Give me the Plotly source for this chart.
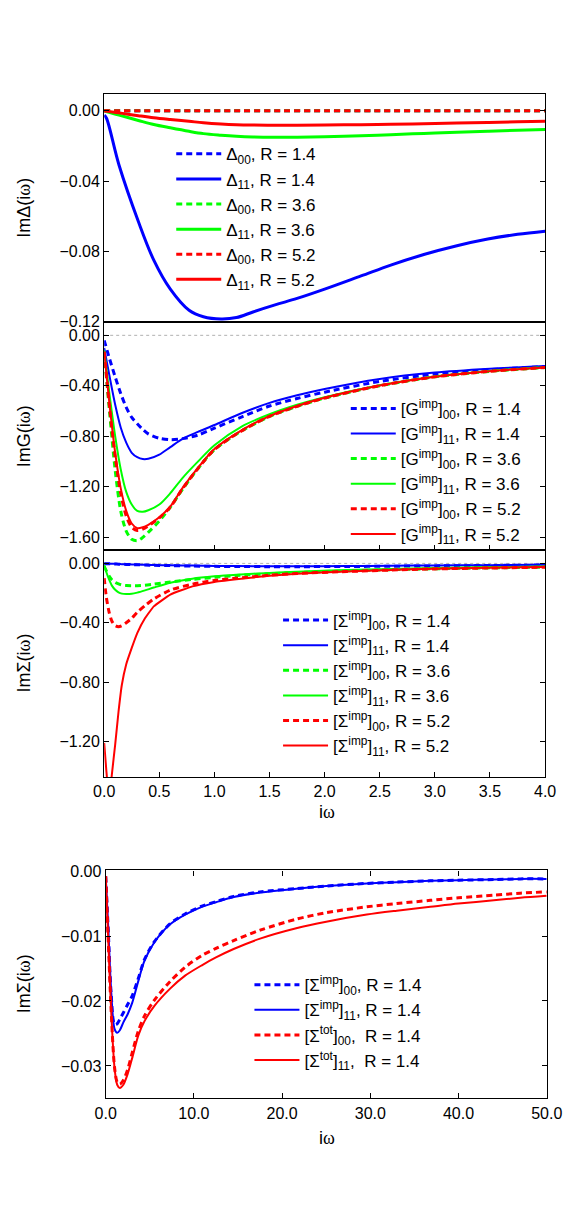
import plotly.graph_objects as go

FONT = "Liberation Sans, Arial, Helvetica, sans-serif"
BLUE, GREEN, RED = "#0000ff", "#00ff00", "#ff0000"
W, H = 584, 1211

# ---------------- Panel 1: Im Delta(i omega) ----------------
x_delta = [0, 0.02, 0.135, 0.31, 0.45, 0.6, 0.77, 0.9, 1.06, 1.2, 1.35, 1.55, 1.75,
           2.0, 2.33, 2.6, 2.9, 3.2, 3.48, 3.75, 4.0]
delta00_R14 = [0, 0, 0, 0, 0, 0, 0, 0, 0, 0, 0, 0, 0, 0, 0, 0, 0, 0, 0, 0, 0]
delta11_R14 = [-0.0025, -0.0041, -0.031, -0.063, -0.085, -0.1015, -0.1135, -0.1172, -0.1185,
               -0.1177, -0.1145, -0.1105, -0.1068, -0.1015, -0.094, -0.0878, -0.0818,
               -0.0768, -0.073, -0.0703, -0.0685]
delta00_R36 = [0, 0, 0, 0, 0, 0, 0, 0, 0, 0, 0, 0, 0, 0, 0, 0, 0, 0, 0, 0, 0]
delta11_R36 = [0, -0.0004, -0.0025, -0.0055, -0.0078, -0.0097, -0.0117, -0.013, -0.0139,
               -0.0145, -0.0149, -0.0151, -0.0151, -0.0148, -0.0142, -0.0136, -0.0129,
               -0.0122, -0.0116, -0.0111, -0.0106]
delta00_R52 = [0, 0, 0, 0, 0, 0, 0, 0, 0, 0, 0, 0, 0, 0, 0, 0, 0, 0, 0, 0, 0]
delta11_R52 = [0, -0.0002, -0.0012, -0.0028, -0.004, -0.005, -0.006, -0.0068, -0.0075,
               -0.0079, -0.0081, -0.0082, -0.0082, -0.0081, -0.0079, -0.0077, -0.0074,
               -0.007, -0.0067, -0.0063, -0.006]

# ---------------- Panel 2: Im G(i omega) ----------------
x_g = [0, 0.05, 0.1, 0.15, 0.2, 0.25, 0.3, 0.35, 0.4, 0.5, 0.6, 0.71, 0.85, 1.0, 1.25,
       1.5, 1.75, 2.0, 2.5, 3.0, 3.5, 4.0]
g00_R14 = [-0.04, -0.19, -0.33, -0.46, -0.57, -0.65, -0.70, -0.745, -0.78, -0.815, -0.826,
           -0.818, -0.79, -0.735, -0.645, -0.56, -0.50, -0.45, -0.365, -0.307, -0.272, -0.247]
g11_R14 = [-0.10, -0.33, -0.55, -0.73, -0.85, -0.93, -0.965, -0.98, -0.978, -0.945, -0.885,
           -0.82, -0.765, -0.71, -0.615, -0.535, -0.475, -0.425, -0.345, -0.295, -0.265, -0.243]
g00_R36 = [-0.13, -0.62, -1.07, -1.39, -1.55, -1.615, -1.626, -1.60, -1.56, -1.47, -1.36,
           -1.22, -1.055, -0.905, -0.755, -0.642, -0.562, -0.497, -0.399, -0.329, -0.285, -0.255]
g11_R36 = [-0.12, -0.48, -0.80, -1.06, -1.24, -1.34, -1.39, -1.397, -1.385, -1.34, -1.25,
           -1.13, -1.0, -0.87, -0.72, -0.625, -0.55, -0.49, -0.395, -0.325, -0.282, -0.252]
g00_R52 = [-0.13, -0.58, -0.96, -1.25, -1.43, -1.52, -1.545, -1.535, -1.51, -1.445, -1.36,
           -1.215, -1.055, -0.905, -0.755, -0.642, -0.562, -0.497, -0.399, -0.329, -0.285, -0.255]
g11_R52 = [-0.13, -0.56, -0.93, -1.21, -1.39, -1.49, -1.527, -1.52, -1.50, -1.44, -1.355,
           -1.21, -1.05, -0.90, -0.75, -0.64, -0.56, -0.495, -0.398, -0.328, -0.284, -0.254]

# ---------------- Panel 3: Im Sigma(i omega) ----------------
x_s = [0, 0.02, 0.045, 0.07, 0.1, 0.13, 0.16, 0.2, 0.25, 0.3, 0.37, 0.45, 0.6, 0.8, 1.0,
       1.2, 1.5, 1.75, 2.2, 2.6, 3.0, 3.5, 4.0]
s00_R14 = [-0.002, -0.002, -0.003, -0.003, -0.004, -0.005, -0.006, -0.007, -0.008, -0.009,
           -0.011, -0.013, -0.015, -0.018, -0.02, -0.021, -0.022, -0.022, -0.021, -0.019,
           -0.017, -0.014, -0.011]
s11_R14 = [-0.001, -0.002, -0.002, -0.003, -0.003, -0.004, -0.005, -0.006, -0.007, -0.008,
           -0.009, -0.011, -0.013, -0.015, -0.017, -0.018, -0.019, -0.019, -0.018, -0.016,
           -0.014, -0.012, -0.010]
s00_R36 = [-0.02, -0.05, -0.085, -0.11, -0.128, -0.138, -0.145, -0.149, -0.15, -0.15, -0.147,
           -0.14, -0.125, -0.108, -0.094, -0.082, -0.07, -0.062, -0.05, -0.042, -0.036,
           -0.03, -0.025]
s11_R36 = [-0.01, -0.06, -0.11, -0.15, -0.178, -0.195, -0.204, -0.207, -0.205, -0.197,
           -0.182, -0.163, -0.13, -0.103, -0.087, -0.076, -0.064, -0.056, -0.045, -0.037,
           -0.031, -0.025, -0.021]
s00_R52 = [-0.10, -0.23, -0.33, -0.39, -0.42, -0.427, -0.42, -0.40, -0.37, -0.33, -0.285,
           -0.24, -0.18, -0.14, -0.115, -0.1, -0.08, -0.068, -0.055, -0.045, -0.037, -0.031,
           -0.026]
s11_R52 = [-1.21, -1.40, -1.60, -1.42, -1.22, -1.0, -0.82, -0.68, -0.57, -0.47, -0.37,
           -0.29, -0.21, -0.155, -0.125, -0.107, -0.083, -0.07, -0.054, -0.044, -0.036,
           -0.03, -0.025]

# ---------------- Figure 2: Im Sigma (imp vs tot), wide range ----------------
x_t = [0, 0.3, 0.6, 1.0, 1.3, 1.6, 2.0, 2.5, 3.0, 3.7, 4.4, 5.5, 7.3, 9.0, 10.9, 12.5,
       14.5, 17.5, 21.6, 25.0, 29.6, 33.0, 36.8, 40.0, 44.0, 47.0, 50.0]
simp00 = [-0.0008, -0.0095, -0.0185, -0.0236, -0.0235, -0.0228, -0.0218, -0.0205, -0.0192,
          -0.0165, -0.0136, -0.0109, -0.0081, -0.0066, -0.0054, -0.0047, -0.0039, -0.0032,
          -0.0027, -0.0023, -0.0019, -0.0017, -0.0015, -0.0014, -0.0013, -0.0012, -0.0012]
simp11 = [-0.0008, -0.009, -0.018, -0.0243, -0.0249, -0.0245, -0.0233, -0.022, -0.0203,
          -0.0169, -0.0138, -0.011, -0.0082, -0.0067, -0.0055, -0.0048, -0.004, -0.0033,
          -0.0027, -0.0023, -0.0019, -0.0017, -0.0015, -0.0014, -0.0013, -0.0012, -0.0012]
stot00 = [-0.0008, -0.011, -0.021, -0.0302, -0.0325, -0.0328, -0.0322, -0.0305, -0.028,
          -0.0246, -0.0223, -0.0199, -0.017, -0.0148, -0.013, -0.0119, -0.0107, -0.0091,
          -0.0074, -0.0064, -0.0055, -0.005, -0.0045, -0.0041, -0.0037, -0.0034, -0.0032]
stot11 = [-0.0008, -0.011, -0.021, -0.0303, -0.0329, -0.0334, -0.0329, -0.0312, -0.0288,
          -0.0253, -0.0231, -0.0208, -0.0181, -0.0161, -0.0145, -0.0133, -0.012, -0.0104,
          -0.0088, -0.0078, -0.0067, -0.0061, -0.0055, -0.005, -0.0045, -0.0041, -0.0038]

R_LABELS = ["1.4", "1.4", "3.6", "3.6", "5.2", "5.2"]
COLORS6 = [BLUE, BLUE, GREEN, GREEN, RED, RED]
DASHED6 = [True, False, True, False, True, False]

fig = go.Figure()

def add(x, y, name, color, dashed, xa, ya, legend, width_solid, width_dash,
        shape="spline", smoothing=0.5):
    fig.add_trace(go.Scatter(
        x=x, y=y, name=name, mode="lines", xaxis=xa, yaxis=ya, legend=legend,
        legendgroup=legend + name,
        line=dict(color=color, width=width_dash if dashed else width_solid,
                  dash="6px,4px" if dashed else "solid", shape=shape,
                  smoothing=smoothing)))

# panel 1
p1 = [delta00_R14, delta11_R14, delta00_R36, delta11_R36, delta00_R52, delta11_R52]
for i, ys in enumerate(p1):
    idx = "00" if DASHED6[i] else "11"
    add(x_delta, ys, f"Δ<sub>{idx}</sub>, R = {R_LABELS[i]}", COLORS6[i], DASHED6[i],
        "x", "y", "legend", 3, 3, smoothing=1.0)
# panel 2
p2 = [g00_R14, g11_R14, g00_R36, g11_R36, g00_R52, g11_R52]
for i, ys in enumerate(p2):
    idx = "00" if DASHED6[i] else "11"
    add(x_g, ys, f"[G<sup>imp</sup>]<sub>{idx}</sub>, R = {R_LABELS[i]}", COLORS6[i],
        DASHED6[i], "x2", "y2", "legend2", 2, 3, smoothing=0.8)
# panel 3
p3 = [s00_R14, s11_R14, s00_R36, s11_R36, s00_R52, s11_R52]
for i, ys in enumerate(p3):
    idx = "00" if DASHED6[i] else "11"
    add(x_s, ys, f"[Σ<sup>imp</sup>]<sub>{idx}</sub>, R = {R_LABELS[i]}", COLORS6[i],
        DASHED6[i], "x3", "y3", "legend3", 2, 3, smoothing=0.3 if i == 5 else 0.7)
# figure 2
p4 = [(simp00, "imp", "00", BLUE, True), (simp11, "imp", "11", BLUE, False),
      (stot00, "tot", "00", RED, True), (stot11, "tot", "11", RED, False)]
for ys, kind, idx, col, dsh in p4:
    sep = ",\u00a0\u00a0R = 1.4" if kind == "tot" else ", R = 1.4"
    add(x_t, ys, f"[Σ<sup>{kind}</sup>]<sub>{idx}</sub>{sep}", col, dsh,
        "x4", "y4", "legend4", 2, 3, smoothing=0.8)

def py(px):
    return 1 - px / H

dom1 = [97.7 / W, 560 / W]
dom2 = [99.3 / W, 561.7 / W]

axbase = dict(showgrid=False, zeroline=False, showline=True, linecolor="black",
              linewidth=1.2, ticks="inside", ticklen=5, tickwidth=1, tickcolor="black",
              tickfont=dict(family=FONT, size=16, color="black"))

fig.update_layout(
    width=W, height=H, margin=dict(l=0, r=0, t=0, b=0),
    paper_bgcolor="white", plot_bgcolor="white",
    font=dict(family=FONT, color="black", size=16),
    xaxis=dict(axbase, domain=dom1, anchor="y", range=[0, 4], ticks="",
               showticklabels=False, mirror=True),
    xaxis2=dict(axbase, domain=dom1, anchor="y2", range=[0, 4], dtick=0.5,
                showticklabels=False, mirror=True),
    xaxis3=dict(axbase, domain=dom1, anchor="y3", range=[0, 4], dtick=0.5, tick0=0,
                tickformat=".1f", mirror=True),
    xaxis4=dict(axbase, domain=dom2, anchor="y4", range=[0, 50], dtick=10, tick0=0,
                tickformat=".1f", mirror="ticks"),
    yaxis=dict(axbase, domain=[py(318), py(86.7)], anchor="x", range=[-0.1201, 0.0098],
               dtick=0.04, tick0=0, tickformat=".2f", mirror="ticks"),
    yaxis2=dict(axbase, domain=[py(549.3), py(318)], anchor="x2", range=[-1.7, 0.107],
                dtick=0.4, tick0=0, tickformat=".2f", mirror="ticks"),
    yaxis3=dict(axbase, domain=[py(779.3), py(549.3)], anchor="x3", range=[-1.44, 0.09],
                dtick=0.4, tick0=0, tickformat=".2f", mirror="ticks"),
    yaxis4=dict(axbase, domain=[py(1105), py(874)], anchor="x4", range=[-0.035, 0.0001],
                dtick=0.01, tick0=0, tickformat=".2f", mirror="ticks"),
    showlegend=True,
)

legbase = dict(xanchor="left", yanchor="top", bgcolor="rgba(0,0,0,0)", borderwidth=0,
               font=dict(family=FONT, size=17, color="black"), itemwidth=45,
               traceorder="grouped", tracegroupgap=0)
fig.update_layout(
    legend=dict(legbase, x=168 / W, y=py(130)),
    legend2=dict(legbase, x=351 / W, y=py(388)),
    legend3=dict(legbase, x=280 / W, y=py(602.5)),
    legend4=dict(legbase, x=250 / W, y=py(972)),
)

# dotted zero reference lines
for xa, ya in [("x2", "y2"), ("x3", "y3")]:
    fig.add_shape(type="line", xref=f"{xa} domain", yref=ya, x0=0, x1=1, y0=0, y1=0,
                  line=dict(color="#b0b0b0", width=1, dash="dot"), layer="below")

# axis titles
OMEGA = "<span style='font-family:Liberation Serif'>ω</span>"
titles = [(f"ImΔ(i{OMEGA})", 202), (f"ImG(i{OMEGA})", 433.6),
          (f"ImΣ(i{OMEGA})", 664), (f"ImΣ(i{OMEGA})", 989)]
for txt, ypx in titles:
    fig.add_annotation(text=txt, x=14 / W, y=py(ypx), xref="paper", yref="paper",
                       textangle=-90, showarrow=False, xanchor="center", yanchor="middle",
                       font=dict(family=FONT, size=18, color="black"))
for ypx in [815, 1145]:
    fig.add_annotation(text=f"i{OMEGA}", x=331 / W, y=py(ypx), xref="paper", yref="paper",
                       showarrow=False, xanchor="center", yanchor="middle",
                       font=dict(family=FONT, size=18, color="black"))

fig.write_html("out.html")
